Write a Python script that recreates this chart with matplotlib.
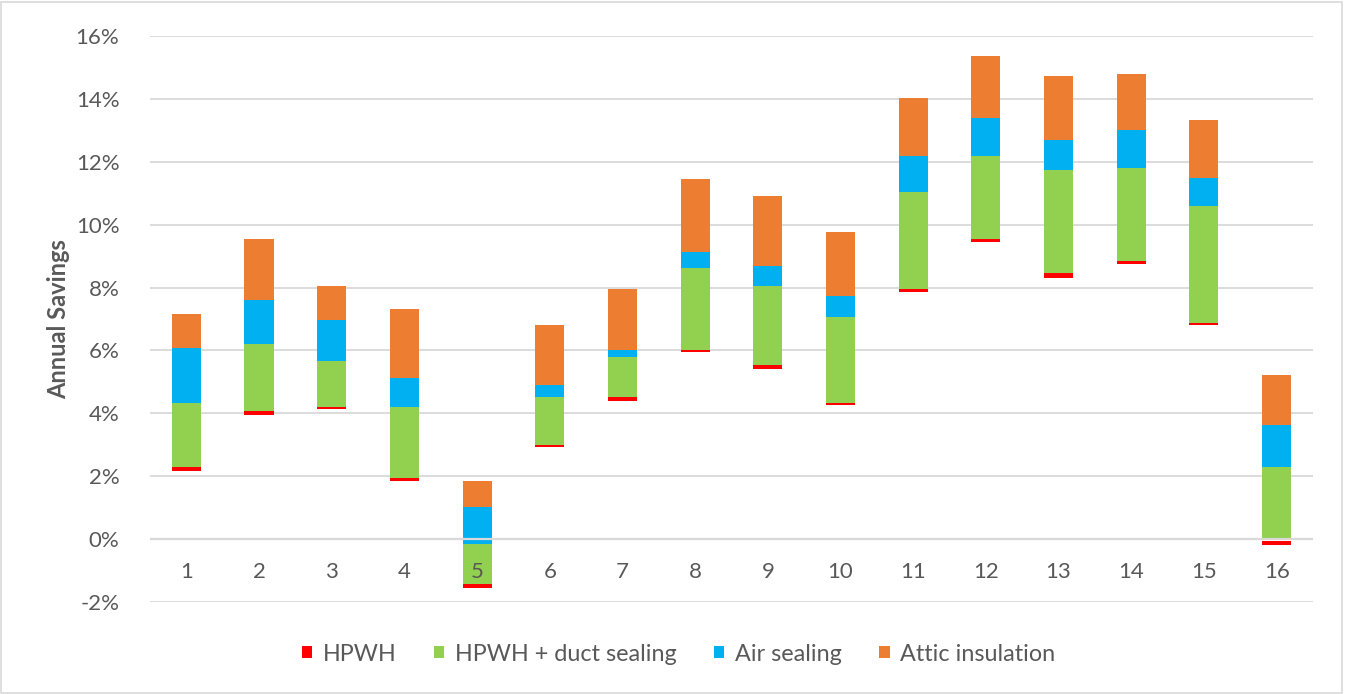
import numpy as np
import matplotlib.pyplot as plt
from matplotlib.patches import Rectangle

# climate zones
zones = np.arange(1, 17)

# cumulative savings levels (%)
hpwh_lo = np.array([2.17, 3.94, 4.13, 1.85, -1.56, 2.93, 4.39, 5.96,
                    5.40, 4.26, 7.87, 9.45, 8.31, 8.76, 6.80, -0.19])
hpwh_hi = np.array([2.30, 4.07, 4.21, 1.93, -1.43, 3.00, 4.52, 6.03,
                    5.53, 4.34, 7.95, 9.53, 8.45, 8.84, 6.88, -0.05])
duct_hi = np.array([4.33, 6.22, 5.65, 4.19, -0.14, 4.51, 5.78, 8.63,
                    8.06, 7.05, 11.04, 12.18, 11.74, 11.80, 10.59, 2.28])
air_hi = np.array([6.07, 7.62, 6.98, 5.14, 1.03, 4.89, 6.03, 9.14,
                   8.69, 7.74, 12.18, 13.38, 12.69, 13.01, 11.49, 3.63])
attic_hi = np.array([7.16, 9.56, 8.05, 7.31, 1.85, 6.81, 7.94, 11.47,
                     10.91, 9.77, 14.02, 15.36, 14.73, 14.78, 13.33, 5.22])

labels = ['HPWH', 'HPWH + duct sealing', 'Air sealing', 'Attic insulation']
colors = ['#FF0000', '#92D050', '#00B0F0', '#ED7D31']

# negative and positive parts stack apart, like Excel does
duct_lo = np.where((hpwh_hi < 0) & (duct_hi > 0), 0, hpwh_hi)

plt.rcParams['font.family'] = ['Lato', 'DejaVu Sans']

fig = plt.figure(figsize=(13.45, 6.94), dpi=100)
ax = fig.add_axes([0.1115, 0.1326, 0.8647, 0.8154])

w = 0.4
ax.bar(zones, hpwh_hi - hpwh_lo, bottom=hpwh_lo, width=w, color=colors[0], label=labels[0], zorder=3)
ax.bar(zones, duct_hi - duct_lo, bottom=duct_lo, width=w, color=colors[1], label=labels[1], zorder=3)
ax.bar(zones, air_hi - duct_hi, bottom=duct_hi, width=w, color=colors[2], label=labels[2], zorder=3)
ax.bar(zones, attic_hi - air_hi, bottom=air_hi, width=w, color=colors[3], label=labels[3], zorder=3)

ax.set_xlim(0.5, 16.5)
ax.set_ylim(-2, 16)
ax.set_yticks(np.arange(-2, 17, 2))
ax.set_yticklabels([f'{v}%' for v in range(-2, 17, 2)], fontsize=16, color='#595959')
ax.tick_params(axis='y', length=0, pad=22)
ax.set_xticks([])
for z in zones:
    ax.text(z, -1.05, str(z), ha='center', va='center', fontsize=16, color='#595959')

ax.grid(axis='y', color='#D9D9D9', linewidth=1.3, zorder=0)
ax.axhline(0, color='#D9D9D9', linewidth=1.6, zorder=4)
for s in ax.spines.values():
    s.set_visible(False)

ax.set_ylabel('Annual Savings', fontsize=17, fontweight='bold', color='#595959')
ax.yaxis.set_label_coords(-0.069, 0.5)

fig.legend(loc='center', bbox_to_anchor=(0.5045, 0.0576), ncol=4, frameon=False,
           prop={'size': 16.8}, labelcolor='#595959', handlelength=0.45, handleheight=0.45,
           handletextpad=0.45, columnspacing=1.6)

fig.patches.append(Rectangle((0.001, 0.002), 0.997, 0.995, transform=fig.transFigure,
                             fill=False, edgecolor='#D9D9D9', linewidth=1.2))

fig.savefig('out.png', dpi=100)
